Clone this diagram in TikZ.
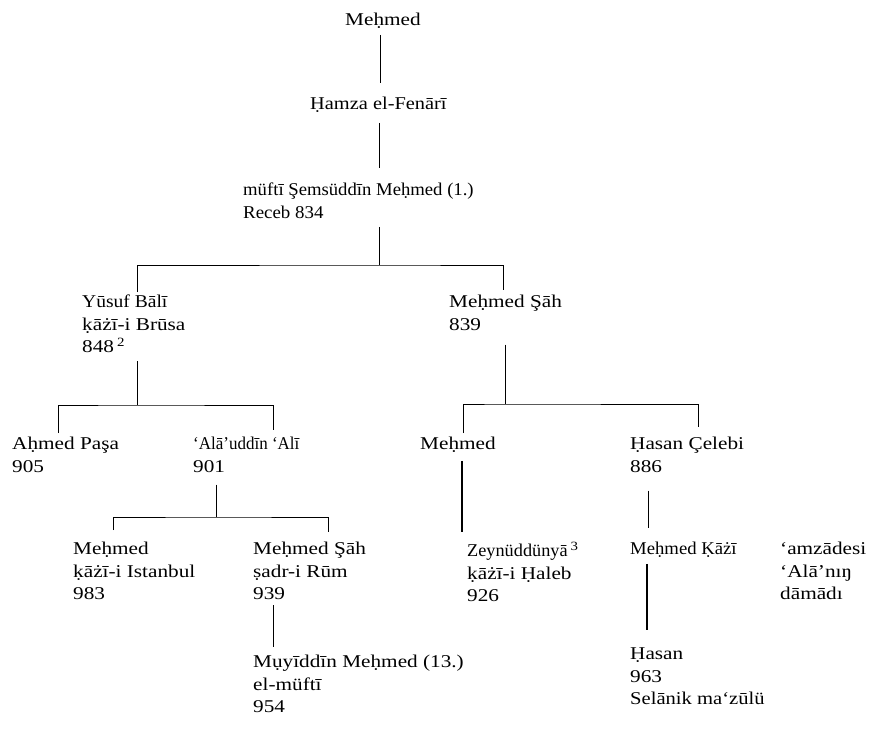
\documentclass[tikz,border=0pt]{standalone}
\usepackage{graphicx}
\usepackage{fontspec}
\setmainfont{Liberation Serif}[FakeStretch=1.18]
\newcommand\slim[2]{\scalebox{#1}[1]{#2}}
\usetikzlibrary{calc}

\begin{document}
\begin{tikzpicture}[x=1pt,y=-1pt,
  person/.style={anchor=north west,inner sep=0pt,align=left,font=\fontsize{18}{22.5}\selectfont},
  link/.style={line width=1pt},
  heavylink/.style={line width=2pt}]
  \useasboundingbox (0,0) rectangle (891,734);

  % Persons
  \node[person] (top)     at (345,13)  {Meḥmed};
  \node[person] (hamza)   at (310,97)  {\slim{0.96}{Ḥamza el-Fenārī}};
  \node[person] (muefti)  at (243,183) {\slim{0.88}{müftī Şemsüddīn Meḥmed (1.)}\\\slim{0.89}{Receb 834}};
  \node[person] (yusuf)   at (82,295)  {\slim{0.92}{Yūsuf Bālī}\\ḳāżī-i Brūsa\\848\,\textsuperscript{2}};
  \node[person] (mehsah)  at (449,295) {Meḥmed Şāh\\839};
  \node[person] (ahmed)   at (12,437)  {Aḥmed Paşa\\905};
  \node[person] (alaed)   at (193,437) {\slim{0.8}{‘Alā’uddīn ‘Alī}\\901};
  \node[person] (mehmedb) at (420,437) {Meḥmed};
  \node[person] (hasanc)  at (630,437) {Ḥasan Çelebi\\886};
  \node[person] (mehmedc) at (73,542)  {Meḥmed\\ḳāżī-i Istanbul\\983};
  \node[person] (mehsahb) at (253,542) {Meḥmed Şāh\\ṣadr-i Rūm\\939};
  \node[person] (zeyn)    at (467,542) {\slim{0.86}{Zeynüddünyā}\,\textsuperscript{3}\\ḳāżī-i Ḥaleb\\926};
  \node[person] (kazi)    at (630,542) {\slim{0.88}{Meḥmed Ḳāżī}};
  \node[person] (amzade)  at (780,542) {‘amzādesi\\‘Alā’nıŋ\\dāmādı};
  \node[person] (muyid)   at (253,655) {Mụyīddīn Meḥmed (13.)\\el-müftī\\954};
  \node[person] (hasand)  at (630,648) {Ḥasan\\963\\\slim{0.97}{Selānik ma‘zūlü}};

  % Junctions of the brackets
  \coordinate (j1) at (379,265);
  \coordinate (d1a) at (137,292);
  \coordinate (d1b) at (503,290);
  \coordinate (j2) at (137,405);
  \coordinate (d2a) at (58,433);
  \coordinate (d2b) at (273,430);
  \coordinate (j3) at (505,404);
  \coordinate (d3a) at (463,433);
  \coordinate (d3b) at (698,427);
  \coordinate (j4) at (216,517);
  \coordinate (d4a) at (113,530);
  \coordinate (d4b) at (328,532);

  % Single descents
  \draw[link] ($(top.south -| 380,0)+(0,6)$) -- ($(hamza.north -| 380,0)+(0,-14)$);
  \draw[link] ($(hamza.south -| 379,0)+(0,10)$) -- ($(muefti.north -| 379,0)+(0,-15)$);
  \draw[link] ($(mehsahb.south -| 273,0)+(0,5)$) -- ($(muyid.north -| 273,0)+(0,-8)$);
  \draw[heavylink] ($(mehmedb.south -| 462,0)+(0,8)$) -- ($(zeyn.north -| 462,0)+(0,-10)$);
  \draw[link] ($(hasanc.south -| 648,0)+(0,18)$) -- ($(kazi.north -| 648,0)+(0,-14)$);
  \draw[heavylink] ($(kazi.south -| 647,0)+(0,6)$) -- ($(hasand.north -| 647,0)+(0,-18)$);

  % Brackets
  \draw[link] ($(muefti.south -| j1)+(0,8)$) -- (j1);
  \draw[link] (d1a) |- (j1) -| (d1b);
  \draw[link] ($(yusuf.south -| j2)+(0,8)$) -- (j2);
  \draw[link] (d2a) |- (j2) -| (d2b);
  \draw[link] ($(mehsah.south -| j3)+(0,14)$) -- (j3);
  \draw[link] (d3a) |- (j3) -| (d3b);
  \draw[link] ($(alaed.south -| j4)+(0,12)$) -- (j4);
  \draw[link] (d4a) |- (j4) -| (d4b);
\end{tikzpicture}
\end{document}
